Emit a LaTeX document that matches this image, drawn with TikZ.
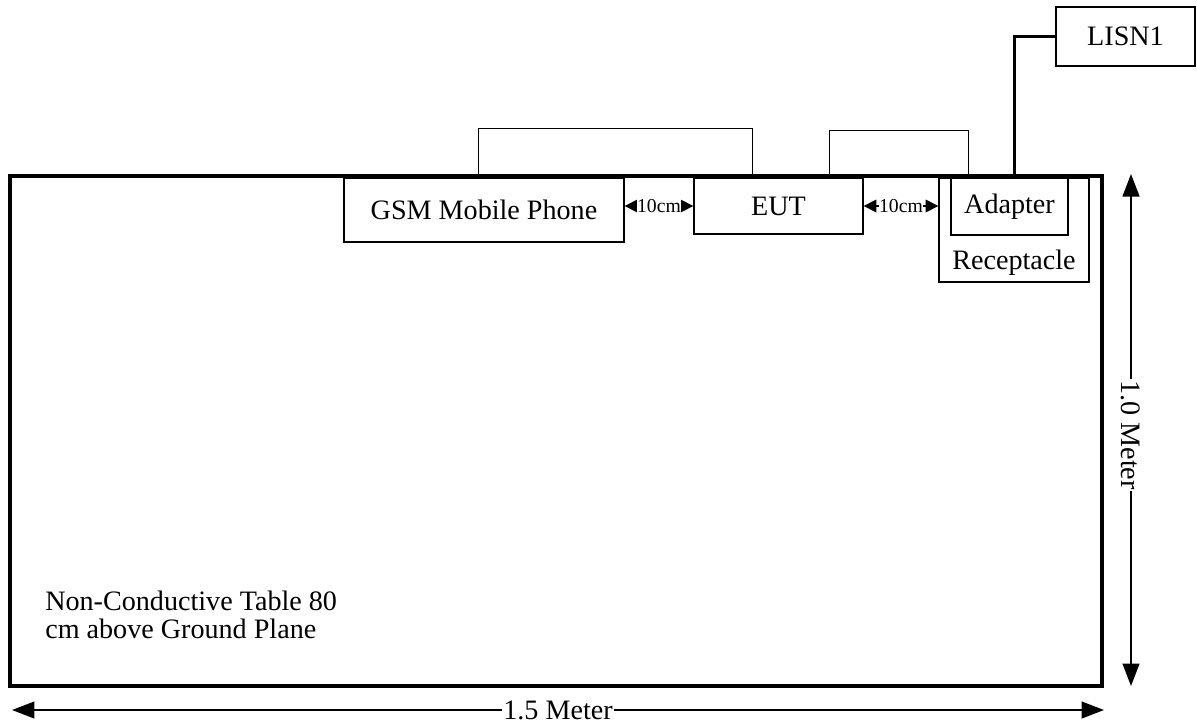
\documentclass[tikz,border=0pt]{standalone}
\usepackage{fontspec}
\setmainfont{Liberation Serif}
\usetikzlibrary{
  arrows.meta,  % Triangle 箭头
  calc,         % 坐标计算
  positioning   % 节点相对定位
}

\begin{document}
\begin{tikzpicture}[x=0.025cm, y=-0.025cm,
    box/.style={draw, line width=0.9pt, inner sep=0pt, font=\fontsize{20}{20}\selectfont},
    lbl/.style={font=\fontsize{20}{20}\selectfont, inner sep=1pt},
    cable/.style={line width=0.7pt},
    power/.style={line width=2.2pt},
    gap/.style={line width=0.9pt, {Triangle[length=9pt,width=9pt]}-{Triangle[length=9pt,width=9pt]}},
    dim/.style={line width=1.1pt, {Triangle[length=16pt,width=12pt]}-{Triangle[length=16pt,width=12pt]}}]

    \useasboundingbox (0,0) rectangle (1197,725);

    % --- 桌面 ---
    \draw[line width=2.8pt] (10,176) rectangle (1102,686);
    \node[lbl, anchor=west, align=left, inner sep=0pt] (tabletext) at (45,615)
      {Non-Conductive Table 80\\cm above Ground Plane};

    % --- 设备 ---
    \node[box, minimum width=7cm, minimum height=1.6cm] (gsm) at (484,210) {GSM Mobile Phone};
    \node[box, minimum width=4.225cm, minimum height=1.4cm] (eut) at (778.5,206) {EUT};
    \node[box, minimum width=3.75cm, minimum height=2.6cm] (recept) at (1014,230) {};
    \node[lbl] (recepttext) at (1014,263) {Receptacle};
    \node[box, minimum width=2.925cm, minimum height=1.425cm] (adapter) at (1009.5,206.5) {Adapter};
    \node[box, minimum width=3.475cm, minimum height=1.475cm] (lisn) at (1125.5,36.5) {LISN1};

    % --- 连线 ---
    \coordinate (gsmtop) at ($(gsm.north west)!0.48!(gsm.north east)$);
    \coordinate (euttopA) at ($(eut.north west)!0.35!(eut.north east)$);
    \coordinate (euttopB) at ($(eut.north west)!0.8!(eut.north east)$);
    \coordinate (adaptertopA) at ($(adapter.north west)!0.154!(adapter.north east)$);
    \coordinate (adaptertopB) at ($(adapter.north west)!0.54!(adapter.north east)$);
    \draw[cable] (gsmtop) -- (gsmtop |- 0,128) -- (euttopA |- 0,128) -- (euttopA);
    \draw[cable] (euttopB) -- (euttopB |- 0,130) -- (adaptertopA |- 0,130) -- (adaptertopA);
    \draw[power] (adaptertopB) |- (lisn.west);

    % --- 间距 10cm ---
    \draw[gap] (gsm.east |- eut.west) -- (eut.west)
      node[midway, fill=white, inner sep=0pt, font=\fontsize{14}{14}\selectfont] (gapA) {10cm};
    \draw[gap] (eut.east) -- (eut.east -| recept.west)
      node[midway, fill=white, inner sep=0pt, font=\fontsize{14}{14}\selectfont] (gapB) {10cm};

    % --- 尺寸标注 ---
    \coordinate (vtop) at (1131,174);
    \coordinate (vbot) at (1131,686);
    \coordinate (hleft) at (12,710);
    \coordinate (hright) at (1104,710);
    \draw[dim] (vtop) -- (vbot)
      node[pos=0.51, fill=white, rotate=-90, lbl] (height) {1.0 Meter};
    \draw[dim] (hleft) -- (hright)
      node[midway, fill=white, lbl] (width) {1.5 Meter};

\end{tikzpicture}
\end{document}
